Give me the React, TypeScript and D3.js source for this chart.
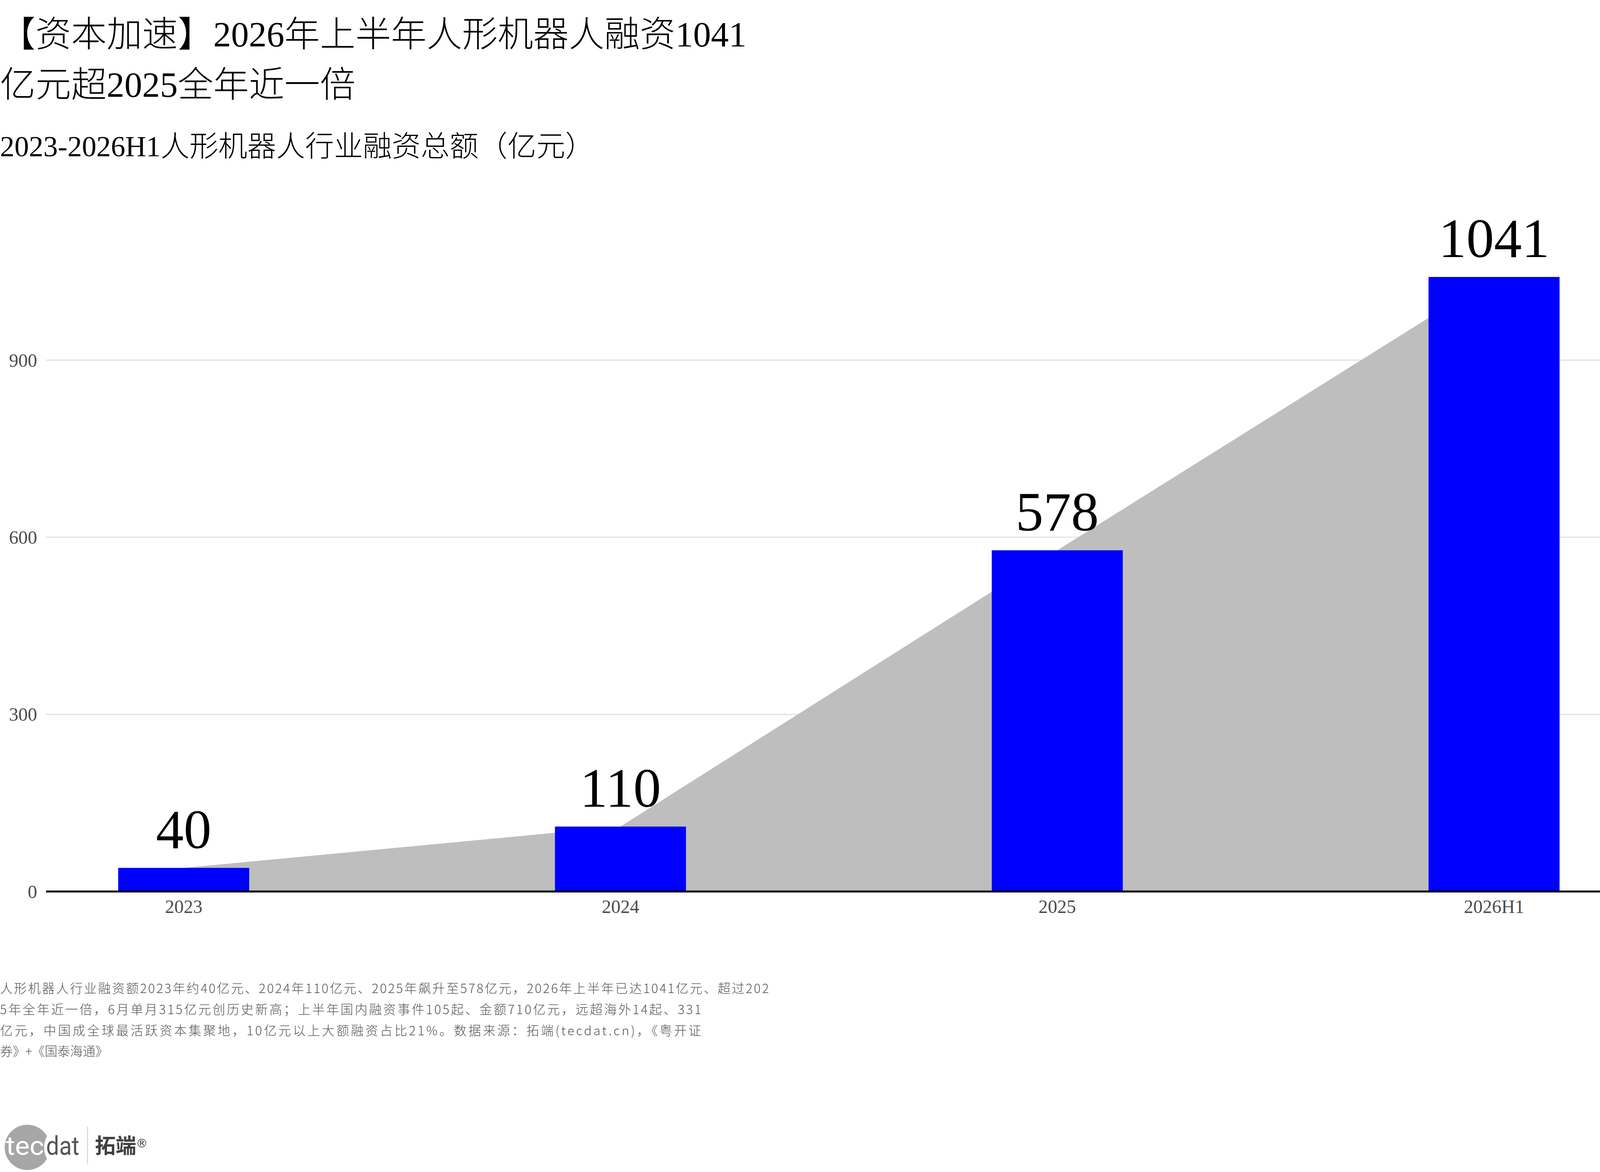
import React from "react";
import * as d3 from "d3";

// chart data
const categories = ["2023", "2024", "2025", "2026H1"];
const amounts = [40, 110, 578, 1041];
const yTicks = [0, 300, 600, 900];

const titleLines = [
  "【资本加速】2026年上半年人形机器人融资1041",
  "亿元超2025全年近一倍",
];
const subtitle = "2023-2026H1人形机器人行业融资总额（亿元）";
const captionLines = [
  "人形机器人行业融资额2023年约40亿元、2024年110亿元、2025年飙升至578亿元，2026年上半年已达1041亿元、超过202",
  "5年全年近一倍，6月单月315亿元创历史新高；上半年国内融资事件105起、金额710亿元，远超海外14起、331",
  "亿元，中国成全球最活跃资本集聚地，10亿元以上大额融资占比21%。数据来源：拓端(tecdat.cn)，《粤开证",
  "券》+《国泰海通》",
];
const captionWidths = [1968, 1795, 1795, null];

const W = 4200;
const H = 3000;
const serif = "'Liberation Serif', 'Noto Sans CJK SC', serif";
const cjk = "'Noto Sans CJK SC', sans-serif";

export default function App() {
  const left = 118;
  const right = 4177;

  const x = d3
    .scaleBand<string>()
    .domain(categories)
    .range([left, right])
    .paddingInner(0.7)
    .paddingOuter(0.165);

  const y = d3.scaleLinear().domain([0, 900]).range([2282, 922]);

  const cx = (c: string) => (x(c) as number) + x.bandwidth() / 2;

  const rows = categories.map((c, i) => ({ cat: c, value: amounts[i] }));

  const area = d3
    .area<{ cat: string; value: number }>()
    .x((d) => cx(d.cat))
    .y0(y(0))
    .y1((d) => y(d.value));

  return (
    <svg
      width={W}
      height={H}
      viewBox={`0 0 ${W} ${H}`}
      style={{ position: "absolute", left: 0, top: 0, background: "#fff" }}
    >
      <rect x={0} y={0} width={W} height={H} fill="#fff" />

      {/* titles */}
      <text x={0} y={119} fontSize={91} fontWeight={300} fontFamily={serif} fill="#000">
        {titleLines[0]}
      </text>
      <text x={0} y={248} fontSize={91} fontWeight={300} fontFamily={serif} fill="#000">
        {titleLines[1]}
      </text>
      <text x={0} y={400} fontSize={74} fontWeight={300} fontFamily={serif} fill="#000">
        {subtitle}
      </text>

      {/* grid */}
      {yTicks
        .filter((t) => t > 0)
        .map((t) => (
          <line
            key={t}
            x1={left}
            x2={right}
            y1={y(t)}
            y2={y(t)}
            stroke="#e5e5e5"
            strokeWidth={3.5}
          />
        ))}

      {/* trend area behind bars */}
      <path d={area(rows) as string} fill="#bebebe" />

      {rows.map((d) => (
        <rect
          key={d.cat}
          x={x(d.cat)}
          y={y(d.value)}
          width={x.bandwidth()}
          height={y(0) - y(d.value)}
          fill="#0000ff"
        />
      ))}

      <line x1={left} x2={right} y1={y(0)} y2={y(0)} stroke="#000" strokeWidth={5} />

      {/* y labels */}
      {yTicks.map((t) => (
        <text
          key={t}
          x={95}
          y={y(t)}
          dy="0.35em"
          textAnchor="end"
          fontSize={48}
          fontFamily={serif}
          fill="#4d4d4d"
        >
          {t}
        </text>
      ))}

      {/* x labels */}
      {categories.map((c) => (
        <text
          key={c}
          x={cx(c)}
          y={2337}
          textAnchor="middle"
          fontSize={48}
          fontFamily={serif}
          fill="#4d4d4d"
        >
          {c}
        </text>
      ))}

      {/* value labels */}
      {rows.map((d) => (
        <text
          key={d.cat}
          x={cx(d.cat)}
          y={y(d.value) - 51}
          textAnchor="middle"
          fontSize={142}
          fontFamily={serif}
          fill="#000"
        >
          {d.value}
        </text>
      ))}

      {/* caption */}
      {captionLines.map((line, i) => (
        <text
          key={i}
          x={0}
          y={2542 + i * 53.8}
          fontSize={32.4}
          fontWeight={300}
          fontFamily={cjk}
          fill="#595959"
          textLength={captionWidths[i] ?? undefined}
          lengthAdjust={captionWidths[i] ? "spacing" : undefined}
        >
          {line}
        </text>
      ))}

      {/* logo */}
      <defs>
        <mask id="bite">
          <rect x={0} y={2850} width={300} height={150} fill="#fff" />
          <circle cx={175} cy={2937} r={62} fill="#000" />
        </mask>
      </defs>
      <circle cx={70} cy={2937} r={58} fill="#a6a6a6" mask="url(#bite)" />
      <text x={15} y={2956} fontSize={66} fontFamily="Roboto, sans-serif" fill="#fff" textLength={98} lengthAdjust="spacingAndGlyphs">
        tec
      </text>
      <text x={118} y={2956} fontSize={66} fontFamily="Roboto, sans-serif" fill="#555" textLength={85} lengthAdjust="spacingAndGlyphs">
        dat
      </text>
      <line x1={224} x2={224} y1={2883} y2={2978} stroke="#d0d4d4" strokeWidth={2.5} />
      <text x={243} y={2952} fontSize={53} fontWeight="bold" fontFamily={cjk} fill="#404040">
        拓端
      </text>
      <text x={348} y={2937} fontSize={30} fontFamily="'DejaVu Sans', sans-serif" fill="#404040">
        ®
      </text>
    </svg>
  );
}
